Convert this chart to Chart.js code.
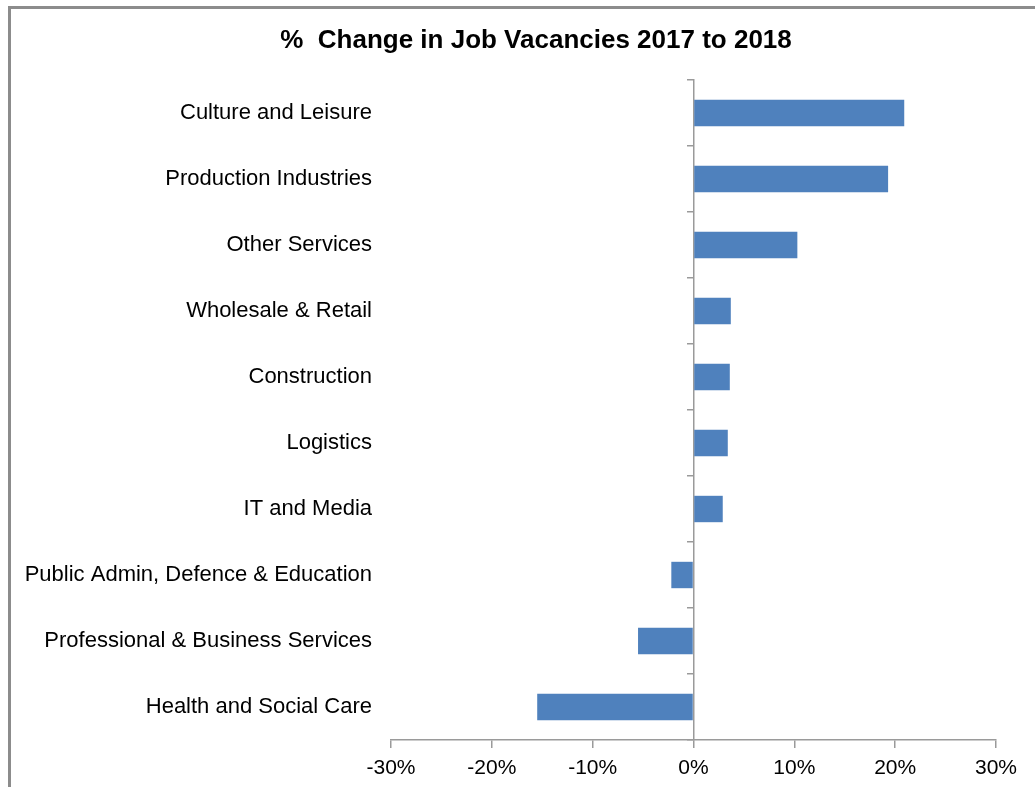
<!DOCTYPE html>
<html lang="en">
<head>
    <meta charset="UTF-8">
    <title>% Change in Job Vacancies 2017 to 2018</title>
    <script src="https://cdn.jsdelivr.net/npm/chart.js"></script>
    <style>
        body { margin: 0; background: #fff; overflow: hidden; }
        .frame {
            position: absolute;
            left: 8px;
            top: 6px;
            width: 1100px;
            height: 840px;
            border-top: 3px solid #8c8c8c;
            border-left: 3px solid #8c8c8c;
        }
    </style>
</head>
<body>
    <div class="frame">
        <canvas id="grafico" width="1030" height="790"></canvas>
    </div>
<script>
    // sectors, top to bottom as in the picture
    var sectors = [
        'Culture and Leisure',
        'Production Industries',
        'Other Services',
        'Wholesale & Retail',
        'Construction',
        'Logistics',
        'IT and Media',
        'Public Admin, Defence & Education',
        'Professional & Business Services',
        'Health and Social Care'
    ];
    // % change 2017 -> 2018
    var pctChange = [20.9, 19.3, 10.3, 3.7, 3.6, 3.4, 2.9, -2.2, -5.5, -15.5];
    var xTicks = [-30, -20, -10, 0, 10, 20, 30];
    var titulo = '%  Change in Job Vacancies 2017 to 2018';

    var cinza = '#9a9a9a';
    var fonte = 'Arial, "Liberation Sans", sans-serif';

    // titulo desenhado a mao: no original ele nao fica centrado no canvas
    const tituloPlugin = {
        id: 'tituloPlugin',
        afterDraw(chart) {
            const c = chart.ctx;
            c.save();
            c.font = 'bold 26px ' + fonte;
            c.fillStyle = '#000';
            c.textAlign = 'center';
            c.textBaseline = 'middle';
            c.fillText(titulo, 525, 32);
            c.restore();
        }
    };

    var ctx = document.getElementById('grafico');
    new Chart(ctx, {
        type: 'bar',
        data: {
            labels: sectors,
            datasets: [{
                label: '% change',
                data: pctChange,
                backgroundColor: '#4f81bd',
                borderWidth: 0,
                barPercentage: 0.4,
                categoryPercentage: 1
            }]
        },
        plugins: [tituloPlugin],
        options: {
            indexAxis: 'y',
            responsive: false,
            animation: false,
            layout: { padding: { left: 0, right: 45, top: 71, bottom: 12 } },
            plugins: {
                legend: { display: false },
                tooltip: { enabled: false },
                title: { display: false }
            },
            scales: {
                x: {
                    min: -30,
                    max: 30,
                    afterBuildTicks: function (scale) {
                        scale.ticks = xTicks.map(v => ({ value: v }));
                    },
                    afterFit: function (scale) { scale.height = 47; },
                    border: { display: true, color: cinza, width: 1.5 },
                    grid: { drawOnChartArea: false, drawTicks: true, tickLength: 8, color: cinza, lineWidth: 1.5 },
                    ticks: {
                        color: '#000',
                        padding: 8,
                        font: { family: fonte, size: 21 },
                        callback: function (v) { return v + '%'; }
                    }
                },
                y: {
                    afterFit: function (scale) { scale.width = 380; },
                    border: { display: false },
                    grid: { display: false, drawTicks: false },
                    ticks: {
                        color: '#000',
                        padding: 19,
                        font: { family: fonte, size: 22 }
                    }
                },
                // eixo em 0% com os tracinhos entre as categorias
                yZero: {
                    type: 'category',
                    axis: 'y',
                    position: { x: 0 },
                    labels: sectors,
                    border: { display: true, color: cinza, width: 1.5 },
                    grid: { drawOnChartArea: false, drawTicks: true, tickLength: 6, offset: true, color: cinza, lineWidth: 1.5 },
                    ticks: { display: false }
                }
            }
        }
    });
</script>
</body>
</html>
